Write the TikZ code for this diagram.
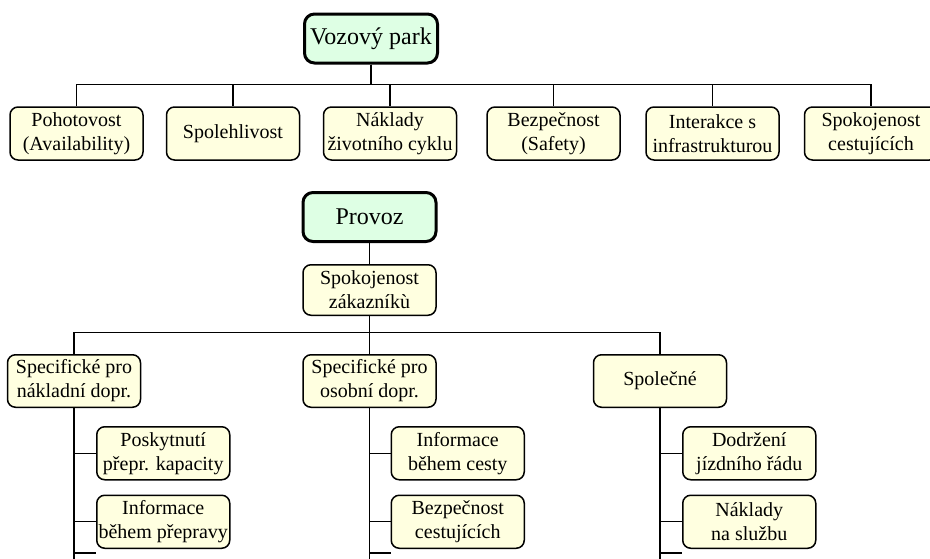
\documentclass[tikz,border=0pt]{standalone}
\usepackage{fontspec}
\setmainfont{Liberation Serif}
\usetikzlibrary{positioning}

\definecolor{rootfill}{RGB}{222,255,228}
\definecolor{leaffill}{RGB}{255,255,224}

\begin{document}
\begin{tikzpicture}[x=1pt,y=-1pt,line width=1.3pt,
    root node/.style={draw,rounded corners=10pt,line width=3pt,fill=rootfill,minimum width=133pt,minimum height=49pt,inner sep=2pt,font=\fontsize{24}{28}\selectfont},
    leaf node/.style={draw,rounded corners=8pt,line width=1.5pt,fill=leaffill,minimum width=133pt,minimum height=53pt,align=center,inner sep=1pt,font=\fontsize{20}{24}\selectfont}]

  \useasboundingbox (0,0) rectangle (930,558);
  \coordinate (bottom) at (0,562);
  \coordinate (stubrow) at (0,553);

  % Vozovy park
  \node[root node] (park) at (371,38.5) {Vozový park};
  \node[leaf node] (pohot) at (76.5,133.5) {Pohotovost\\(Availability)};
  \node[leaf node] (spoleh) [right=22pt of pohot] {Spolehlivost};
  \node[leaf node] (naklady) [right=22.5pt of spoleh] {Náklady\\životního cyklu};
  \node[leaf node] (bezp) [right=29pt of naklady] {Bezpečnost\\(Safety)};
  \node[leaf node] (inter) [right=24.5pt of bezp] {Interakce s\\infrastrukturou};
  \node[leaf node] (spokoj) [right=24pt of inter] {Spokojenost\\cestujících};
  \foreach \n in {pohot,spoleh,naklady,bezp,inter,spokoj}
    \draw (park.south) -- ++(0,20) -| (\n.north);

  % Provoz
  \node[root node] (provoz) at (369.5,217) {Provoz};
  \node[leaf node,minimum height=50.5pt] (zakaz) [below=21pt of provoz] {Spokojenost\\zákazníkù};
  \node[leaf node,minimum height=52.5pt] (osob) [below=38pt of zakaz] {Specifické pro\\osobní dopr.};
  \node[leaf node,minimum height=52.5pt] (naklad) [left=161pt of osob] {Specifické pro\\nákladní dopr.};
  \node[leaf node,minimum height=52.5pt] (spolec) [right=156pt of osob] {Společné};
  \draw (provoz) -- (zakaz);
  \foreach \n in {naklad,osob,spolec}
    \draw (zakaz.south) -- ++(0,16.5) -| (\n.north);

  % nakladni doprava
  \node[leaf node] (kapac) [below=18pt of naklad,anchor=north west,xshift=22pt] {Poskytnutí\\přepr. kapacity};
  \node[leaf node] (infop) [below=14pt of kapac] {Informace\\během přepravy};
  % osobni doprava
  \node[leaf node] (infoc) [below=18pt of osob,anchor=north west,xshift=21pt] {Informace\\během cesty};
  \node[leaf node] (bezpc) [below=14pt of infoc] {Bezpečnost\\cestujících};
  % spolecne
  \node[leaf node] (jizd) [below=18pt of spolec,anchor=north west,xshift=22pt] {Dodržení\\jízdního řádu};
  \node[leaf node] (sluzba) [below=14pt of jizd] {Náklady\\na službu};

  \coordinate (kapacnext) at (kapac.west |- stubrow);
  \coordinate (infocnext) at (infoc.west |- stubrow);
  \coordinate (jizdnext) at (jizd.west |- stubrow);

  \draw (naklad.south) -- (naklad.south |- bottom);
  \draw (naklad.south) |- (kapac.west);
  \draw (naklad.south) |- (infop.west);
  \draw (naklad.south) |- (kapacnext);
  \draw (osob.south) -- (osob.south |- bottom);
  \draw (osob.south) |- (infoc.west);
  \draw (osob.south) |- (bezpc.west);
  \draw (osob.south) |- (infocnext);
  \draw (spolec.south) -- (spolec.south |- bottom);
  \draw (spolec.south) |- (jizd.west);
  \draw (spolec.south) |- (sluzba.west);
  \draw (spolec.south) |- (jizdnext);
\end{tikzpicture}
\end{document}
